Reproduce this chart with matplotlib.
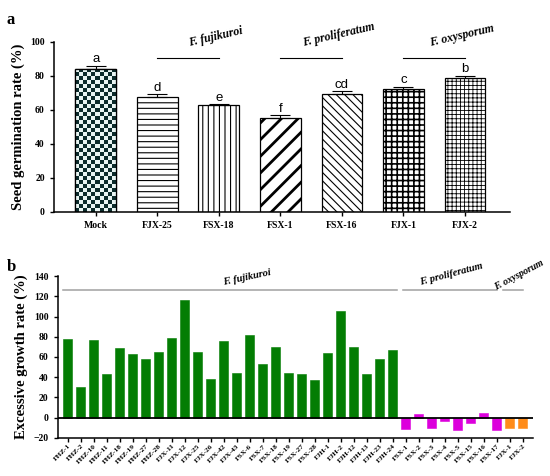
import matplotlib
matplotlib.use("Agg")
import matplotlib.pyplot as plt
import numpy as np

plt.rcParams['font.family'] = ['Liberation Serif', 'DejaVu Serif']
plt.rcParams['font.weight'] = 'bold'

# ---- data panel a ----
a_names = ["Mock", "FJX-25", "FSX-18", "FSX-1", "FSX-16", "FJX-1", "FJX-2"]
a_values = [84.3, 67.5, 62.6, 55.0, 69.4, 72.0, 79.0]
a_errors = [1.6, 1.8, 0.6, 1.8, 1.6, 1.6, 1.2]
a_letters = ["a", "d", "e", "f", "cd", "c", "b"]
a_hatches = [None, "---", "|||", "//", "\\\\\\\\", "+++", "++++"]
a_hatch_lw = [1, 0.8, 0.8, 2.0, 0.8, 1.2, 0.6]

# ---- data panel b ----
b_names = ["FHZ-1", "FHZ-2", "FHZ-10", "FHZ-11", "FHZ-18", "FHZ-19", "FHZ-27", "FHZ-28",
           "FJX-11", "FJX-12", "FJX-25", "FJX-26", "FJX-42", "FJX-43", "FSX-6", "FSX-7",
           "FSX-18", "FSX-19", "FSX-27", "FSX-28", "FJH-1", "FJH-2", "FJH-12", "FJH-13",
           "FJH-23", "FJH-24",
           "FSX-1", "FSX-2", "FSX-3", "FSX-4", "FSX-5", "FSX-15", "FSX-16", "FSX-17",
           "FJX-1", "FJX-2"]
b_values = [78, 30, 77, 43, 69, 63, 58, 65, 79, 116, 65, 38, 76, 44, 82, 53,
            70, 44, 43, 37, 64, 105, 70, 43, 58, 67,
            -11, 4, -10.5, -3, -12.5, -5, 5, -12.5,
            -10.5, -10.5]
b_groups = ["fuj"] * 26 + ["pro"] * 8 + ["oxy"] * 2
group_colors = {"fuj": "#037d03", "pro": "#dc00dc", "oxy": "#ff8c1a"}

fig = plt.figure(figsize=(5.5, 4.76), dpi=100)

# ================= panel a =================
ax1 = fig.add_axes([0.098, 0.555, 0.829, 0.357])
x = np.arange(len(a_names))
bars = ax1.bar(x, a_values, width=0.66, color="white", edgecolor="black", linewidth=0.9, zorder=2)
for b, h, lw in zip(bars, a_hatches, a_hatch_lw):
    if h:
        b.set_hatch(h)
        try:
            b.set_hatch_linewidth(lw)
        except AttributeError:
            pass

# checkerboard for Mock
mb = bars[0]
checker = (np.indices((36, 10)).sum(axis=0) % 2).astype(float)
cmap = matplotlib.colors.ListedColormap(["#e8f4f2", "#0b2b2b"])
im = ax1.imshow(checker, cmap=cmap, interpolation="nearest", aspect="auto",
                extent=(mb.get_x(), mb.get_x() + mb.get_width(), 0, mb.get_height()), zorder=2)
im.set_clip_path(mb)
ax1.bar(x[0], a_values[0], width=0.66, color="none", edgecolor="black", linewidth=0.9, zorder=3)

ax1.errorbar(x, a_values, yerr=[np.zeros(len(a_errors)), a_errors], fmt="none",
             ecolor="black", elinewidth=0.8, capsize=7, capthick=0.8, zorder=3)
for xi, v, e, t in zip(x, a_values, a_errors, a_letters):
    ax1.text(xi, v + e + 0.3, t, ha="center", va="bottom", fontsize=9.5,
             family="Liberation Sans", fontweight="normal")

ax1.set_xlim(-0.68, 6.73)
ax1.set_ylim(0, 100)
ax1.set_yticks(np.arange(0, 101, 20))
ax1.set_xticks(x)
ax1.set_xticklabels(a_names, fontsize=7, fontweight="bold")
ax1.tick_params(axis="y", labelsize=7, width=1, length=3)
ax1.tick_params(axis="x", width=1, length=3)
ax1.spines["top"].set_visible(False)
ax1.spines["right"].set_visible(False)
for s in ["left", "bottom"]:
    ax1.spines[s].set_linewidth(1.1)
ax1.set_ylabel("Seed germination rate (%)", fontsize=10.5, fontweight="bold")

a_groups = [("F. fujikuroi", 1, 2), ("F. proliferatum", 3, 4), ("F. oxysporum", 5, 6)]
for name, i0, i1 in a_groups:
    ax1.plot([x[i0], x[i1]], [90.5, 90.5], color="black", lw=0.8, clip_on=False)
    ax1.text(x[i1] - 0.05, 96, name, style="italic", fontsize=8.5, rotation=13,
             ha="center", va="bottom", clip_on=False)

# ================= panel b =================
ax2 = fig.add_axes([0.105, 0.080, 0.864, 0.340])
xb = np.arange(len(b_names))
ax2.bar(xb, b_values, width=0.7, color=[group_colors[g] for g in b_groups],
        edgecolor=[group_colors[g] for g in b_groups], linewidth=0.4, zorder=2)
ax2.axhline(0, color="black", lw=1.3, zorder=3)
ax2.set_xlim(-0.77, len(b_names) - 0.23)
ax2.set_ylim(-20, 140)
ax2.set_yticks(np.arange(-20, 141, 20))
ax2.set_xticks(xb)
ax2.set_xticklabels(b_names, rotation=45, ha="right", rotation_mode="anchor",
                    fontsize=5.3, fontweight="bold")
ax2.tick_params(axis="y", labelsize=7, width=1, length=3)
ax2.tick_params(axis="x", width=1, length=3, pad=1)
ax2.spines["top"].set_visible(False)
ax2.spines["right"].set_visible(False)
for s in ["left", "bottom"]:
    ax2.spines[s].set_linewidth(1.1)
ax2.set_ylabel("Excessive growth rate (%)", fontsize=10.5, fontweight="bold")

ax2.plot([-0.4, 25.3], [126.5, 126.5], color="#a0a0a0", lw=1.1, clip_on=False)
ax2.plot([25.8, 33.0], [126.5, 126.5], color="#a0a0a0", lw=1.1, clip_on=False)
ax2.plot([33.5, 35.0], [126.5, 126.5], color="#a0a0a0", lw=1.1, clip_on=False)
ax2.text(13.8, 129, "F. fujikuroi", style="italic", fontsize=7.5, rotation=12,
         ha="center", va="bottom", clip_on=False)
ax2.text(29.5, 129, "F. proliferatum", style="italic", fontsize=7.5, rotation=15,
         ha="center", va="bottom", clip_on=False)
ax2.text(32.7, 124, "F. oxysporum", style="italic", fontsize=7, rotation=28,
         ha="left", va="bottom", clip_on=False)

fig.text(0.012, 0.975, "a", fontsize=12, fontweight="bold", va="top")
fig.text(0.012, 0.455, "b", fontsize=12, fontweight="bold", va="top")

fig.savefig("out.png", dpi=100)
